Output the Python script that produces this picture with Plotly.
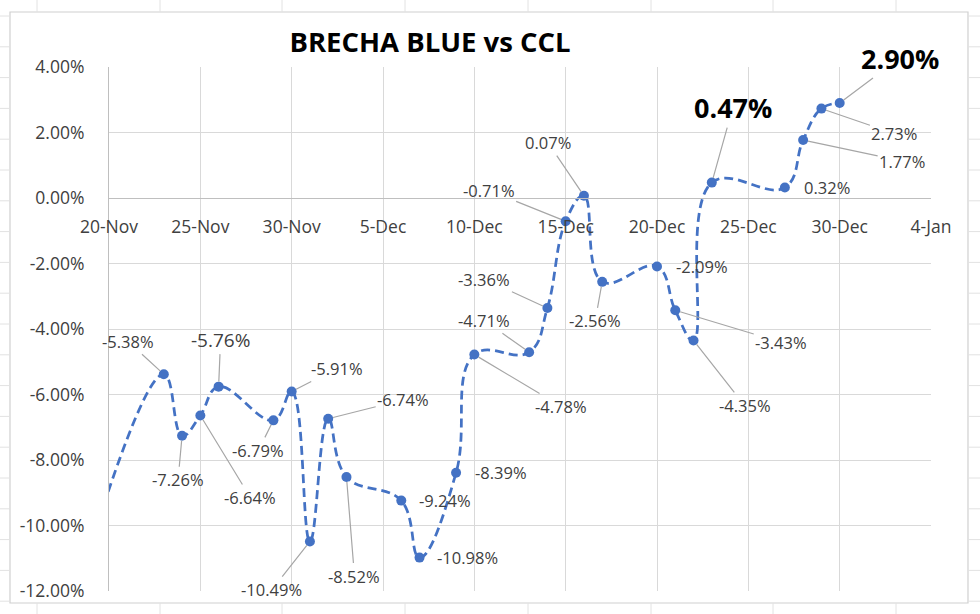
import plotly.graph_objects as go

# ---- data ----
dates = ["2021-11-19", "2021-11-23", "2021-11-24", "2021-11-25", "2021-11-26",
         "2021-11-29", "2021-11-30", "2021-12-01", "2021-12-02", "2021-12-03",
         "2021-12-06", "2021-12-07", "2021-12-09", "2021-12-10", "2021-12-13",
         "2021-12-14", "2021-12-15", "2021-12-16", "2021-12-17", "2021-12-20",
         "2021-12-21", "2021-12-22", "2021-12-23", "2021-12-27", "2021-12-28",
         "2021-12-29", "2021-12-30"]
brecha = [-10.6, -5.38, -7.26, -6.64, -5.76,
          -6.79, -5.91, -10.49, -6.74, -8.52,
          -9.24, -10.98, -8.39, -4.78, -4.71,
          -3.36, -0.71, 0.07, -2.56, -2.09,
          -3.43, -4.35, 0.47, 0.32, 1.77,
          2.73, 2.90]
title_text = "BRECHA BLUE vs CCL"
y_ticks = [4, 2, 0, -2, -4, -6, -8, -10, -12]
y_tick_text = [f"{v:.2f}%" for v in y_ticks]

# ---- label placement (pixel offsets from the point; leader flag; size; bold) ----
label_style = {
    1: (-36, -33, True, 16.5, False),
    2: (-4, 44, True, 16.5, False),
    3: (50, 82, True, 16.5, False),
    4: (2, -47, True, 19, False),
    5: (-15, 30, True, 16.5, False),
    6: (45, -23, True, 16.5, False),
    7: (-38, 48, True, 16.5, False),
    8: (75, -19, True, 16.5, False),
    9: (8, 99, True, 16.5, False),
    10: (44, 0, False, 16.5, False),
    11: (48, 0, False, 16.5, False),
    12: (45, 0, False, 16.5, False),
    13: (87, 52, True, 16.5, False),
    14: (-45, -32, True, 16.5, False),
    15: (-63, -29, True, 16.5, False),
    16: (-77, -31, True, 16.5, False),
    17: (-36, -53, True, 16.5, False),
    18: (-7, 39, True, 16.5, False),
    19: (45, 0, False, 16.5, False),
    20: (106, 32, True, 16.5, False),
    21: (51, 65, True, 16.5, False),
    22: (21, -75, True, 27, True),
    23: (42, 0, False, 16.5, False),
    24: (99, 21, True, 16.5, False),
    25: (73, 25, True, 16.5, False),
    26: (60, -45, True, 27, True),
}

BLUE = "#4472C4"
GRID = "#d9d9d9"
TXT = "#404040"
FONT = "Open Sans"

fig = go.Figure()
fig.add_trace(go.Scatter(
    x=dates, y=brecha, mode="lines+markers",
    line=dict(color=BLUE, width=2.75, dash="9px,5px", shape="spline", smoothing=1.2),
    marker=dict(color=BLUE, size=10),
    showlegend=False, hoverinfo="x+y",
))

annotations = []
for i, (dx, dy, leader, size, bold) in label_style.items():
    v = brecha[i]
    txt = f"{v:.2f}%"
    if bold:
        txt = f"<b>{txt}</b>"
    font = dict(family=FONT, size=size, color="#000000" if bold else TXT)
    if leader:
        annotations.append(dict(
            x=dates[i], y=v, xref="x", yref="y", text=txt, font=font,
            showarrow=True, ax=dx, ay=dy, axref="pixel", ayref="pixel",
            arrowhead=0, arrowwidth=1.2, arrowcolor="#a6a6a6", standoff=5,
        ))
    else:
        annotations.append(dict(
            x=dates[i], y=v, xref="x", yref="y", text=txt, font=font,
            showarrow=False, xshift=dx, yshift=-dy,
        ))

# plot-area pixel geometry -> paper conversions for decorative frame
L, R, T, B = 109, 931, 67, 591
W, H = 980, 614
def px(xp):
    return (xp - L) / (R - L)
def py(yp):
    return (B - yp) / (B - T)

shapes = []
shapes.append(dict(type="rect", xref="paper", yref="paper",
                   x0=px(10), x1=px(968), y0=py(603), y1=py(12),
                   line=dict(color="#d0d0d0", width=1.2), layer="below"))
for xc in [37, 160, 282, 405, 528, 651, 773, 896]:
    shapes.append(dict(type="line", xref="paper", yref="paper",
                       x0=px(xc), x1=px(xc), y0=py(0), y1=py(12),
                       line=dict(color="#e2e2e2", width=1)))
    shapes.append(dict(type="line", xref="paper", yref="paper",
                       x0=px(xc), x1=px(xc), y0=py(603), y1=py(614),
                       line=dict(color="#e2e2e2", width=1)))
k = 0
while 16 + 30.8 * k < 614:
    yc = 16 + 30.8 * k
    shapes.append(dict(type="line", xref="paper", yref="paper",
                       x0=px(0), x1=px(10), y0=py(yc), y1=py(yc),
                       line=dict(color="#e2e2e2", width=1)))
    shapes.append(dict(type="line", xref="paper", yref="paper",
                       x0=px(968), x1=px(980), y0=py(yc), y1=py(yc),
                       line=dict(color="#e2e2e2", width=1)))
    k += 1

fig.update_layout(
    width=W, height=H,
    margin=dict(l=L, r=W - R, t=T, b=H - B, pad=0),
    paper_bgcolor="white", plot_bgcolor="white",
    title=dict(text=f"<b>{title_text}</b>", x=430 / W, xref="container",
               xanchor="center", y=1 - 42 / H, yref="container", yanchor="middle",
               font=dict(family=FONT, size=27.5, color="#000000")),
    font=dict(family=FONT, size=16, color=TXT),
    annotations=annotations,
    shapes=shapes,
    xaxis=dict(
        type="date", range=["2021-11-20", "2022-01-04"],
        tick0="2021-11-20", dtick=5 * 86400000, tickformat="%-d-%b",
        showgrid=True, gridcolor=GRID, gridwidth=1,
        anchor="free", position=0.75,
        showline=True, linecolor="#bfbfbf", linewidth=1.2,
        ticks="", ticklabelstandoff=13,
        tickfont=dict(family=FONT, size=17.5, color=TXT),
        zeroline=False,
    ),
    yaxis=dict(
        range=[-12, 4], tickmode="array", tickvals=y_ticks, ticktext=y_tick_text,
        showgrid=True, gridcolor=GRID, gridwidth=1,
        zeroline=False,
        showline=True, linecolor="#bfbfbf", linewidth=1.2,
        ticks="", ticklabelstandoff=20,
        tickfont=dict(family=FONT, size=17.5, color=TXT),
    ),
)

fig.write_html("out.html")
